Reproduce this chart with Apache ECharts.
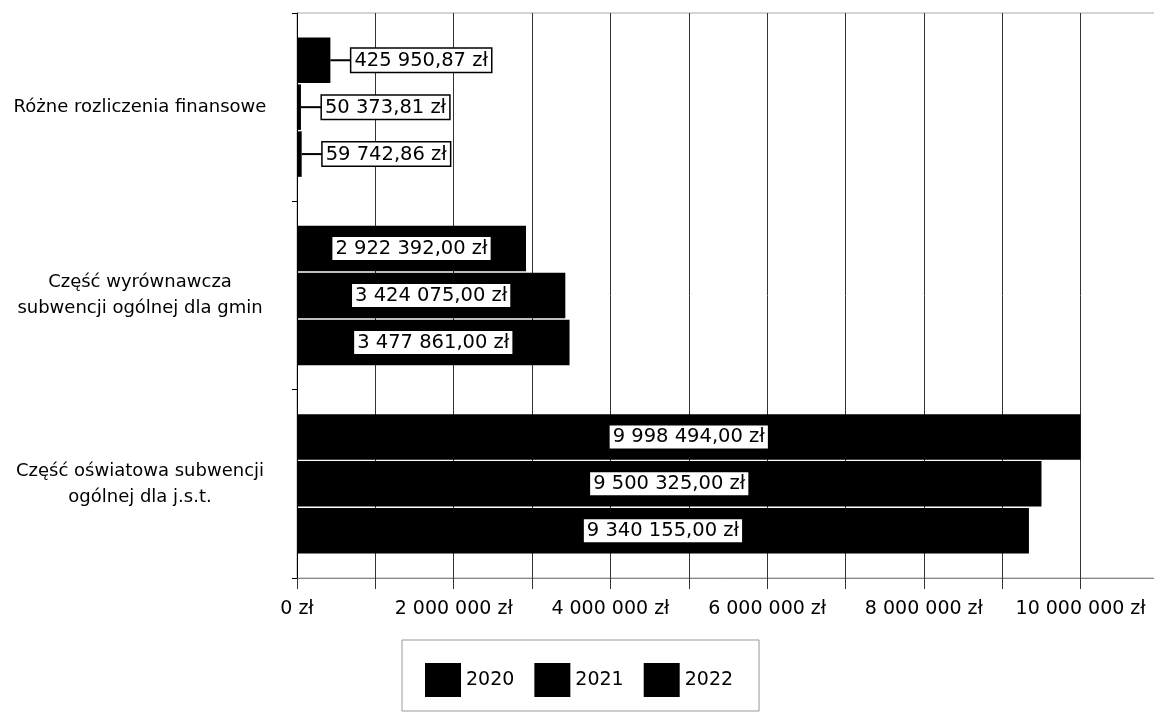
<!DOCTYPE html>
<html>
<head>
<meta charset="utf-8">
<script src="https://cdn.jsdelivr.net/npm/echarts@6/dist/echarts.min.js"></script>
<style>
  html, body { margin: 0; padding: 0; background: #fff; }
  #chart { width: 1154px; height: 713px; }
</style>
</head>
<body>
<div id="chart"></div>
<script>
// Categories, listed from the bottom of the axis to the top
const categories = [
  'Część oświatowa subwencji\nogólnej dla j.s.t.',
  'Część wyrównawcza\nsubwencji ogólnej dla gmin',
  'Różne rozliczenia finansowe'
];
const years = ['2020', '2021', '2022'];
const values2020 = [9340155.00, 3477861.00, 59742.86];
const values2021 = [9500325.00, 3424075.00, 50373.81];
const values2022 = [9998494.00, 2922392.00, 425950.87];
const seriesValues = [values2020, values2021, values2022];

const FONT = 'DejaVu Sans';

// "1234567.8" -> "1 234 567,80 zł"
function zl(v, decimals) {
  const fixed = v.toFixed(decimals);
  const parts = fixed.split('.');
  const intPart = parts[0].replace(/\B(?=(\d{3})+(?!\d))/g, ' ');
  return (parts[1] ? intPart + ',' + parts[1] : intPart) + ' zł';
}

const boxStyle = {
  color: '#000',
  fontFamily: FONT,
  fontSize: 19.5,
  lineHeight: 21,
  backgroundColor: '#fff',
  borderColor: '#000',
  borderWidth: 1.5,
  padding: [2, 3, 1, 3]
};

// Long bars: boxed label centred in the bar.
// Short bars: boxed label to the right, joined to the bar end by a short leader.
function buildData(vals) {
  return vals.map(v => {
    if (v < 1000000) {
      return {
        value: v,
        label: {
          position: 'right',
          distance: 0,
          formatter: p => '{ln| }{box|' + zl(p.value, 2) + '}'
        }
      };
    }
    return {
      value: v,
      label: { position: 'inside', formatter: p => '{box|' + zl(p.value, 2) + '}' }
    };
  });
}

// Within a group the first series sits on top, so years run newest-first here
const series = years.map((y, i) => ({
  name: y,
  type: 'bar',
  data: buildData(seriesValues[i]),
  itemStyle: { color: '#000' },
  barGap: '3%',
  barCategoryGap: '26%',
  label: {
    show: true,
    rich: {
      box: boxStyle,
      ln: { width: 21, height: 2, backgroundColor: '#000', fontSize: 1, lineHeight: 2 }
    }
  },
  animation: false
})).reverse();

const chart = echarts.init(document.getElementById('chart'));
chart.setOption({
  backgroundColor: '#fff',
  animation: false,
  grid: {
    left: 297, width: 862, top: 13, bottom: 135,
    outerBoundsMode: 'none',
    show: true, borderColor: '#aaa', borderWidth: 1
  },
  xAxis: {
    type: 'value',
    min: 0, max: 11000000, interval: 1000000,
    axisLine: { show: true, lineStyle: { color: '#888', width: 1 } },
    axisTick: { show: true, inside: false, length: 11, lineStyle: { color: '#333' } },
    splitLine: { show: true, lineStyle: { color: '#333', width: 1 } },
    axisLabel: {
      color: '#000', fontFamily: FONT, fontSize: 19, margin: 22,
      formatter: v => (v % 2000000 === 0 && v <= 10000000) ? zl(v, 0) : ''
    }
  },
  yAxis: {
    type: 'category',
    data: categories,
    axisLine: { show: true, lineStyle: { color: '#000', width: 1 } },
    axisTick: { show: true, length: 5, lineStyle: { color: '#000' } },
    axisLabel: {
      color: '#000', fontFamily: FONT, fontSize: 18, lineHeight: 26,
      align: 'center', margin: 157
    }
  },
  legend: {
    data: years,
    left: 402, top: 640,
    orient: 'horizontal',
    itemWidth: 36, itemHeight: 34, itemGap: 20,
    padding: [23, 26, 14, 23],
    borderColor: '#999', borderWidth: 1,
    icon: 'rect',
    textStyle: { color: '#000', fontFamily: FONT, fontSize: 19 }
  },
  series: series
});
</script>
</body>
</html>
